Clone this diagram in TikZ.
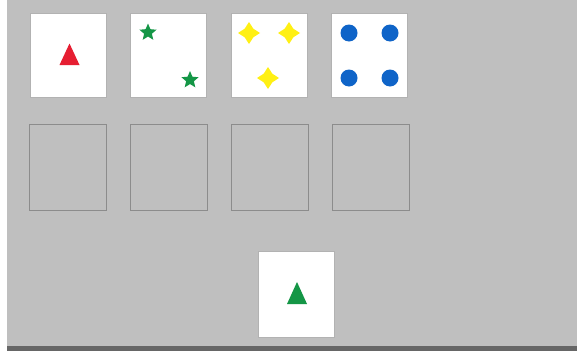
\documentclass[tikz,border=0pt]{standalone}
\usepackage{xcolor}
\usetikzlibrary{shapes.geometric, positioning}

\definecolor{panelgray}{RGB}{191,191,191}
\definecolor{cardred}{RGB}{230,30,50}
\definecolor{cardgreen}{RGB}{20,150,70}
\definecolor{cardyellow}{RGB}{255,240,20}
\definecolor{cardblue}{RGB}{15,100,200}

\begin{document}
\begin{tikzpicture}[
    x=1pt, y=-1pt,
    node distance=23.5pt,
    card/.style={rectangle, draw=black!30, fill=white, line width=1pt,
                 minimum width=76pt, minimum height=84pt, inner sep=0pt},
    slot/.style={rectangle, draw=black!45, line width=1.4pt,
                 minimum width=77pt, minimum height=86pt, inner sep=0pt},
    starsym/.style={star, star points=5, star point ratio=2.2, fill=cardgreen,
                    minimum size=18pt, inner sep=0pt},
    sparkle/.style={star, star points=4, star point ratio=1.8, fill=cardyellow,
                    minimum size=22pt, inner sep=0pt},
    dot/.style={circle, fill=cardblue, minimum size=17pt, inner sep=0pt}
]

\useasboundingbox (0,0) rectangle (577,351);
\fill[panelgray] (7,0) rectangle (577,346);
\fill[black!60] (7,346) rectangle (577,351);

% top row: the four cards
\node[card] (one) at (68,55) {};
\node[card, right=of one]   (two)   {};
\node[card, right=of two]   (three) {};
\node[card, right=of three] (four)  {};

% second row: empty slots
\node[slot, below=26pt of one] (slotA) {};
\node[slot, right=22.5pt of slotA] (slotB) {};
\node[slot, right=22.5pt of slotB] (slotC) {};
\node[slot, right=22.5pt of slotC] (slotD) {};

% card to place
\node[card, minimum height=86pt] (pick) at (296.5,294) {};

% symbols
\fill[cardred] (59.5,65) -- (69.5,43.5) -- (79.5,65) -- cycle;

\node[starsym] (starA) at (148,32.5) {};
\node[starsym] (starB) at (190,80) {};

\node[sparkle] (sparkA) at (249,33) {};
\node[sparkle] (sparkB) at (289,33) {};
\node[sparkle] (sparkC) at (268,78) {};

\node[dot] (dotA) at (349,33) {};
\node[dot] (dotB) at (390,33) {};
\node[dot] (dotC) at (349,78) {};
\node[dot] (dotD) at (390,78) {};

\fill[cardgreen] (287,304) -- (297,282) -- (307,304) -- cycle;

\end{tikzpicture}
\end{document}
